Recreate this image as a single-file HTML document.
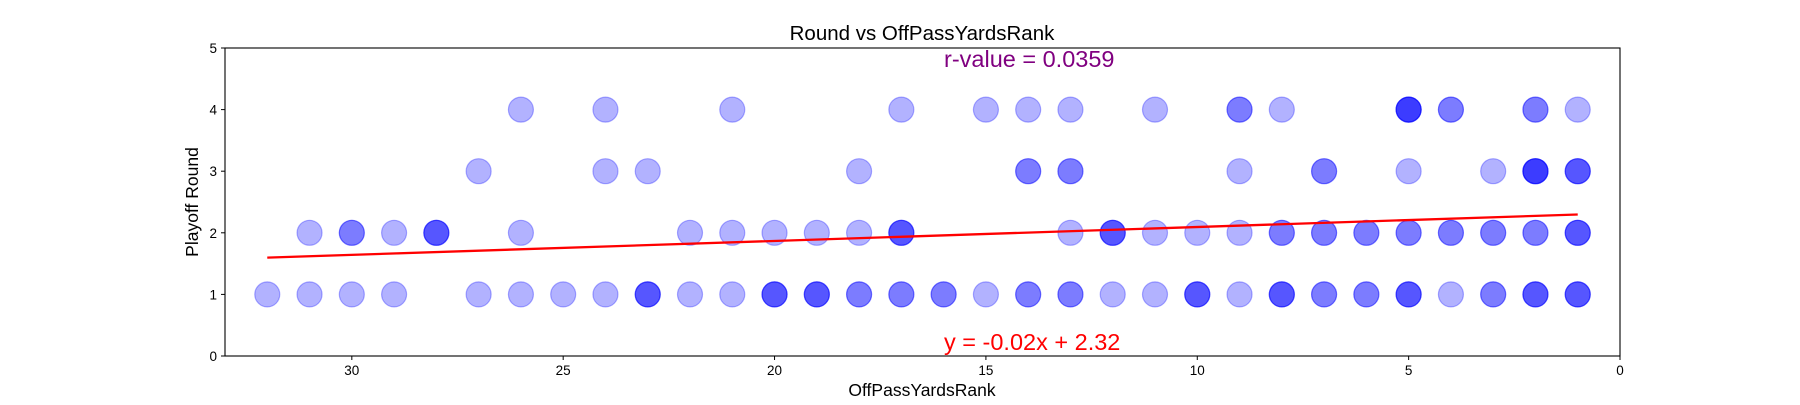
<!DOCTYPE html>
<html><head><meta charset="utf-8"><style>
body{margin:0;background:#fff;}
svg text{font-family:"Liberation Sans","DejaVu Sans",sans-serif;}
</style></head><body>
<svg id="chart" width="1800" height="400" xmlns="http://www.w3.org/2000/svg">
<rect width="1800" height="400" fill="#fff"/>
<g id="points"></g>
<g id="axes"></g>
</svg>
<script>
// data: [x, y, count]
const xs4=[26,24,21,17,15,14,13,11,9,8,5,4,2,1];
const c4=[1,1,1,1,1,1,1,1,2,1,4,2,2,1];
const xs3=[27,24,23,18,14,13,9,7,5,3,2,1];
const c3=[1,1,1,1,2,2,1,2,1,1,4,3];
const xs2=[31,30,29,28,26,22,21,20,19,18,17,13,12,11,10,9,8,7,6,5,4,3,2,1];
const c2=[1,2,1,3,1,1,1,1,1,1,3,1,3,1,1,1,2,2,2,2,2,2,2,3];
const xs1=[32,31,30,29,27,26,25,24,23,22,21,20,19,18,17,16,15,14,13,12,11,10,9,8,7,6,5,4,3,2,1];
const c1=[1,1,1,1,1,1,1,1,3,1,1,3,3,2,2,2,1,2,2,1,1,3,1,3,2,2,3,1,2,3,3];
const xTicks=[30,25,20,15,10,5,0];
const yTicks=[0,1,2,3,4,5];
const fitSlope=-0.0226, fitIntercept=2.32;
const fitRange=[32,1];

const L=225,R=1620,T=48,B=356;
const X=v=>R-(v-0)/33*(R-L);
const Y=v=>B-v/5*(B-T);
const NS="http://www.w3.org/2000/svg";
function mk(tag,attrs,parent,txt){const e=document.createElementNS(NS,tag);for(const k in attrs)e.setAttribute(k,attrs[k]);if(txt!==undefined)e.textContent=txt;parent.appendChild(e);return e;}
const pts=document.getElementById('points');
const rows=[[xs1,c1,1],[xs2,c2,2],[xs3,c3,3],[xs4,c4,4]];
rows.forEach(([xa,ca,yv])=>{xa.forEach((xv,i)=>{for(let k=0;k<ca[i];k++){
 const c=mk('circle',{cx:X(xv),cy:Y(yv),r:12.5,fill:'rgba(0,0,255,0.3)',stroke:'rgba(0,0,255,0.3)','stroke-width':1.2},pts);
 
 
}});});
const ax=document.getElementById('axes');
const fl=mk('line',{x1:X(fitRange[0]),y1:Y(fitSlope*fitRange[0]+fitIntercept),x2:X(fitRange[1]),y2:Y(fitSlope*fitRange[1]+fitIntercept),stroke:'#f00','stroke-width':2.3},ax);


const fr=mk('rect',{x:L,y:T,width:R-L,height:B-T,fill:'none',stroke:'#000','stroke-width':1.1},ax);


xTicks.forEach(t=>{
 mk('line',{x1:X(t),x2:X(t),y1:B,y2:B+4,stroke:'#000'},ax);
 const tx=mk('text',{x:X(t),y:B+19,'text-anchor':'middle','font-size':13.5},ax,String(t));
 
 
});
yTicks.forEach(t=>{
 mk('line',{x1:L-4,x2:L,y1:Y(t),y2:Y(t),stroke:'#000'},ax);
 const tx=mk('text',{x:L-8,y:Y(t)+5,'text-anchor':'end','font-size':13.5},ax,String(t));
 
 
});
</script>
<div style="position:absolute;left:0;top:0;width:1800px;height:400px;pointer-events:none">
<svg width="1800" height="400" xmlns="http://www.w3.org/2000/svg">
<text x="922" y="40" text-anchor="middle" font-size="20.5">Round vs OffPassYardsRank</text>
<text x="944" y="67" font-size="23.5" fill="#800080">r-value = 0.0359</text>
<text x="944" y="350" font-size="23.5" fill="#f00">y = -0.02x + 2.32</text>
<text x="922" y="396" text-anchor="middle" font-size="17.5">OffPassYardsRank</text>
<text x="198" y="202" text-anchor="middle" font-size="17.5" transform="rotate(-90 198 202)">Playoff Round</text>
</svg></div>
</body></html>
